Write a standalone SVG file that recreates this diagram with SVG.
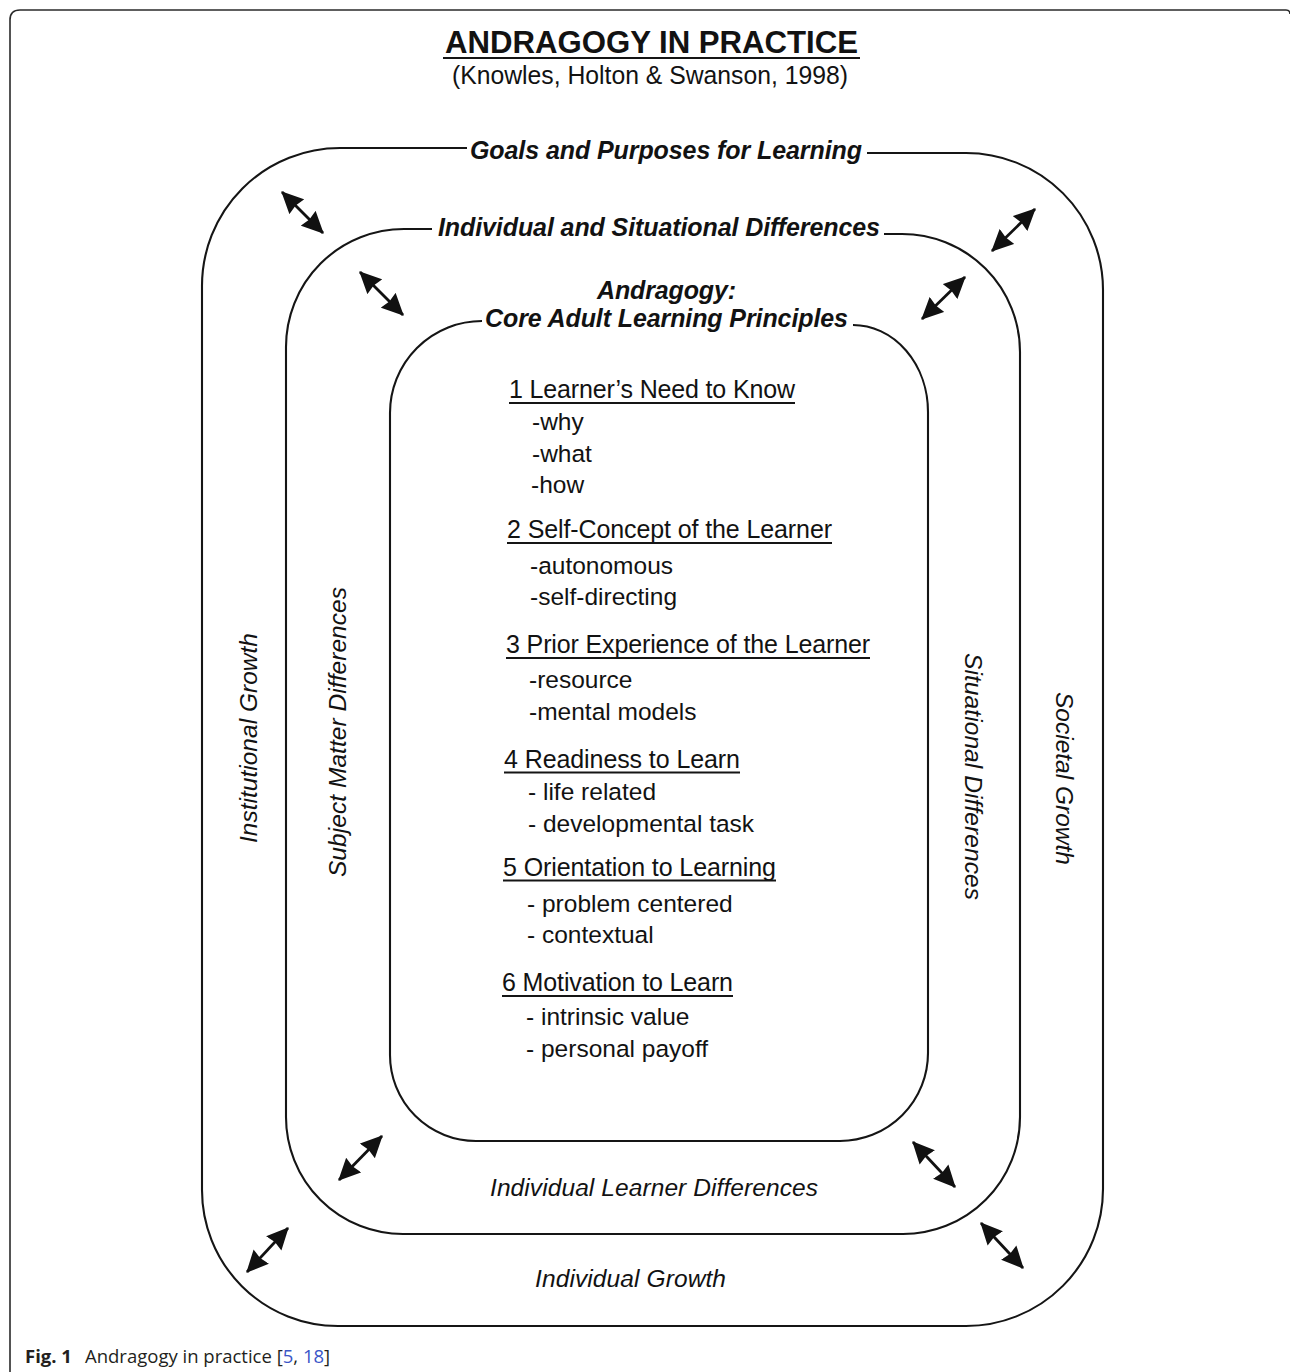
<svg xmlns="http://www.w3.org/2000/svg" width="1290" height="1372" viewBox="0 0 1290 1372">
<defs>
<style>
.ring{fill:none;stroke:#151515;stroke-width:2.1}
.frame{fill:none;stroke:#2a2a2a;stroke-width:1.6}
.t{font-family:"Liberation Sans",Arial,Helvetica,sans-serif;fill:#121212}
.bi{font-weight:bold;font-style:italic;font-size:25px}
.it{font-style:italic;font-size:24.5px}
.head{font-size:25px}
.sub{font-size:24.5px}
.ul{stroke:#151515;stroke-width:1.8}
.arr{stroke:#111;stroke-width:2.8;marker-start:url(#ah);marker-end:url(#ah)}
.cap{font-family:"Open Sans","Liberation Sans",sans-serif;font-size:18.5px;fill:#231f20}
</style>
<marker id="ah" viewBox="0 0 20 20" refX="19" refY="10" markerWidth="22" markerHeight="22" markerUnits="userSpaceOnUse" orient="auto-start-reverse">
<path d="M0,0.5 L20,10 L0,19.5 L1.5,10 Z" fill="#111"/>
</marker>
</defs>
<rect width="1290" height="1372" fill="#ffffff"/>

<g id="frame">
<path class="frame" d="M10,1372 V20 Q10,10 20,10 H1286 Q1290,10 1290,14"/>
</g>

<g id="title">
<text class="t" x="651.5" y="53" text-anchor="middle" font-weight="bold" font-size="32" textLength="413" lengthAdjust="spacingAndGlyphs" style="font-family:'Liberation Sans Narrow','Liberation Sans',Arial,sans-serif">ANDRAGOGY IN PRACTICE</text>
<line class="ul" x1="443" y1="58" x2="860" y2="58" stroke-width="2.6"/>
<text class="t" x="650" y="84" text-anchor="middle" font-size="26" textLength="396" lengthAdjust="spacingAndGlyphs" style="font-family:'Liberation Sans Narrow','Liberation Sans',Arial,sans-serif">(Knowles, Holton &amp; Swanson, 1998)</text>
</g>

<g id="ring-goals">
<path class="ring" d="M467,148 H340 A138,138 0 0 0 202,286 V1190 A136,136 0 0 0 338,1326 H966 A137,137 0 0 0 1103,1189 V290 A137,137 0 0 0 966,153 H867"/>
<text class="t bi" x="666" y="159" text-anchor="middle" textLength="392">Goals and Purposes for Learning</text>
<text class="t it" transform="rotate(-90 257 738)" x="257" y="738" text-anchor="middle" textLength="210">Institutional Growth</text>
<text class="t it" transform="rotate(90 1056 778.5)" x="1056" y="778.5" text-anchor="middle" textLength="173">Societal Growth</text>
<text class="t it" x="630.5" y="1287" text-anchor="middle" textLength="191">Individual Growth</text>
</g>

<g id="ring-differences">
<path class="ring" d="M432,229 H404 A118,118 0 0 0 286,347 V1117 A117,117 0 0 0 403,1234 H903 A117,117 0 0 0 1020,1117 V352 A118,118 0 0 0 902,234 H884"/>
<text class="t bi" x="659" y="236" text-anchor="middle" textLength="442">Individual and Situational Differences</text>
<text class="t it" transform="rotate(-90 346 732)" x="346" y="732" text-anchor="middle" textLength="290">Subject Matter Differences</text>
<text class="t it" transform="rotate(90 964.5 776.5)" x="964.5" y="776.5" text-anchor="middle" textLength="247">Situational Differences</text>
<text class="t it" x="654" y="1196" text-anchor="middle" textLength="328">Individual Learner Differences</text>
</g>

<g id="ring-core">
<path class="ring" d="M482,321 A92,92 0 0 0 390,413 V1055 A86,86 0 0 0 476,1141 H840 A88,88 0 0 0 928,1053 V412 A75,87 0 0 0 853,325"/>
<text class="t bi" x="666.5" y="299" text-anchor="middle" textLength="139">Andragogy:</text>
<text class="t bi" x="666.5" y="327" text-anchor="middle" textLength="363">Core Adult Learning Principles</text>
</g>

<g id="principles">
<text class="t head" x="509" y="398" textLength="286">1 Learner’s Need to Know</text>
<line class="ul" x1="509" y1="403" x2="795" y2="403"/>
<text class="t sub" x="532" y="430">-why</text>
<text class="t sub" x="532" y="462">-what</text>
<text class="t sub" x="531" y="493">-how</text>

<text class="t head" x="507" y="538" textLength="325">2 Self-Concept of the Learner</text>
<line class="ul" x1="507" y1="543" x2="832" y2="543"/>
<text class="t sub" x="530" y="574">-autonomous</text>
<text class="t sub" x="530" y="605">-self-directing</text>

<text class="t head" x="506" y="653" textLength="364">3 Prior Experience of the Learner</text>
<line class="ul" x1="506" y1="658" x2="870" y2="658"/>
<text class="t sub" x="529" y="688">-resource</text>
<text class="t sub" x="529" y="720">-mental models</text>

<text class="t head" x="504" y="768" textLength="236">4 Readiness to Learn</text>
<line class="ul" x1="504" y1="772.5" x2="740" y2="772.5"/>
<text class="t sub" x="528" y="800">- life related</text>
<text class="t sub" x="528" y="832">- developmental task</text>

<text class="t head" x="503" y="876" textLength="273">5 Orientation to Learning</text>
<line class="ul" x1="503" y1="880.5" x2="776" y2="880.5"/>
<text class="t sub" x="527" y="912">- problem centered</text>
<text class="t sub" x="527" y="943">- contextual</text>

<text class="t head" x="502" y="991" textLength="231">6 Motivation to Learn</text>
<line class="ul" x1="502" y1="996" x2="733" y2="996"/>
<text class="t sub" x="526" y="1025">- intrinsic value</text>
<text class="t sub" x="526" y="1057">- personal payoff</text>
</g>

<g id="connectors">
<line class="arr" x1="282" y1="192" x2="323" y2="233"/>
<line class="arr" x1="360" y1="272" x2="403" y2="315"/>
<line class="arr" x1="1035" y1="209" x2="992" y2="251"/>
<line class="arr" x1="965" y1="277" x2="922" y2="319"/>
<line class="arr" x1="382" y1="1136" x2="339" y2="1180"/>
<line class="arr" x1="288" y1="1228" x2="247" y2="1272"/>
<line class="arr" x1="913" y1="1142" x2="955" y2="1187"/>
<line class="arr" x1="981" y1="1223" x2="1023" y2="1268"/>
</g>

<g id="caption">
<text class="cap" x="25" y="1363"><tspan font-weight="bold">Fig. 1</tspan><tspan x="85">Andragogy in practice [</tspan><tspan fill="#3a56c8">5</tspan>, <tspan fill="#3a56c8">18</tspan>]</text>
</g>
</svg>
